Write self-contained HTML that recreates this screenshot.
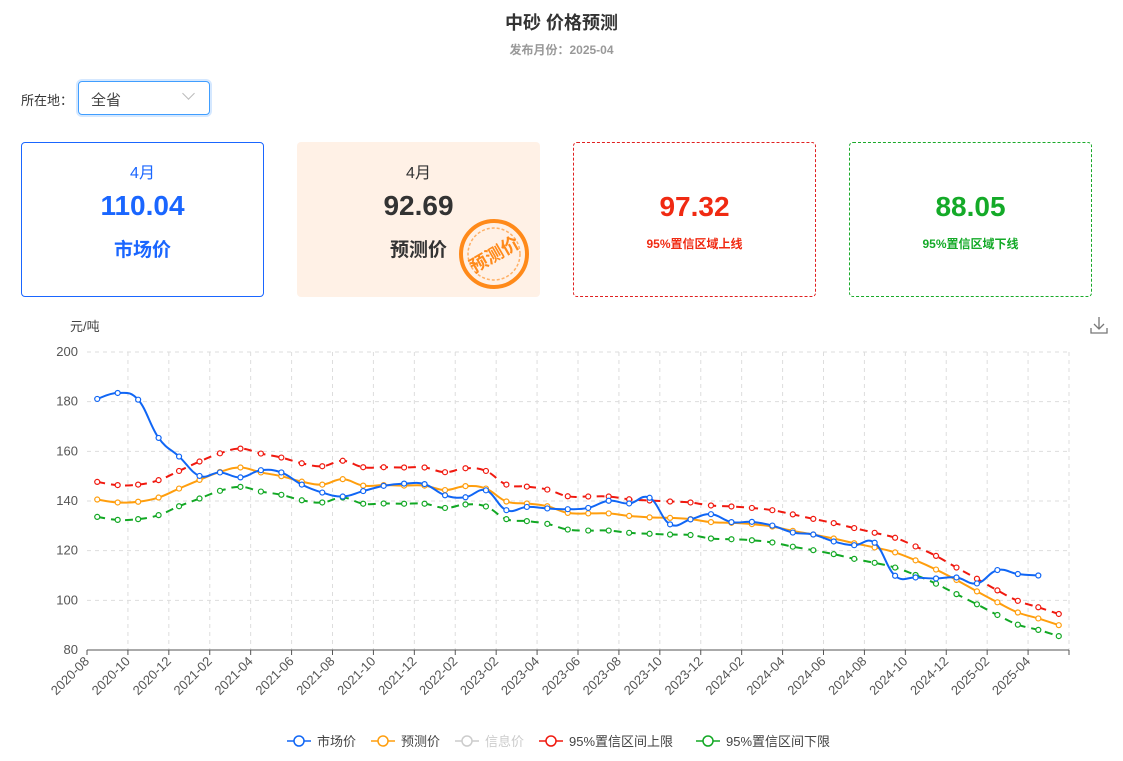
<!DOCTYPE html>
<html><head><meta charset="utf-8">
<style>
*{margin:0;padding:0;box-sizing:border-box}
body{width:1123px;height:761px;background:#fff;font-family:"Liberation Sans","Noto Sans CJK SC",sans-serif;position:relative;overflow:hidden;color:#333}
.abs{position:absolute}
.card{position:absolute;top:142px;width:243px;height:155px;border-radius:4px;text-align:center}
</style></head><body>
<div class="abs" style="left:0;width:1123px;top:9px;text-align:center;font-size:18px;font-weight:bold;color:#333">中砂 价格预测</div>
<div class="abs" style="left:0;width:1123px;top:41px;text-align:center;font-size:12px;font-weight:bold;color:#999">发布月份：2025-04</div>
<div class="abs" style="left:21px;top:90px;font-size:13px;color:#333">所在地：</div>
<div class="abs" style="left:78px;top:81px;width:132px;height:34px;border:1px solid #409eff;border-radius:4px;box-shadow:0 0 0 2px #d5e8ff"></div>
<div class="abs" style="left:91px;top:89px;font-size:15px;color:#444">全省</div>
<div class="abs" style="left:184px;top:89px;width:9px;height:9px;border-right:1px solid #bbb;border-bottom:1px solid #bbb;transform:rotate(45deg)"></div>

<div class="card" style="left:21px;border:1px solid #1a66ff">
 <div class="abs" style="left:0;right:0;top:16px;font-size:16px;color:#1a66ff">4月</div>
 <div class="abs" style="left:0;right:0;top:47px;font-size:28px;font-weight:bold;color:#1a66ff">110.04</div>
 <div class="abs" style="left:0;right:0;top:92px;font-size:19px;font-weight:bold;color:#1a66ff">市场价</div>
</div>
<div class="card" style="left:297px;background:#fff1e6">
 <div class="abs" style="left:0;right:0;top:17px;font-size:16px;color:#333">4月</div>
 <div class="abs" style="left:0;right:0;top:48px;font-size:28px;font-weight:bold;color:#333">92.69</div>
 <div class="abs" style="left:0;right:0;top:93px;font-size:19px;font-weight:bold;color:#333">预测价</div>
</div>
<svg class="abs" style="left:458px;top:218px" width="72" height="72" viewBox="0 0 72 72">
 <circle cx="36" cy="36" r="33" fill="none" stroke="#ff8a1a" stroke-width="4"/>
 <circle cx="36" cy="36" r="26" fill="none" stroke="#ffb066" stroke-width="1.5" stroke-dasharray="3 2"/>
 <text x="36" y="43" text-anchor="middle" font-size="18" font-weight="bold" fill="#ff8a1a" transform="rotate(-30 36 36)" font-family="Liberation Sans,Noto Sans CJK SC,sans-serif">预测价</text>
</svg>
<div class="card" style="left:573px;border:1px dashed #e02020">
 <div class="abs" style="left:0;right:0;top:48px;font-size:28px;font-weight:bold;color:#f02a12">97.32</div>
 <div class="abs" style="left:0;right:0;top:92px;font-size:12px;font-weight:bold;color:#f02a12">95%置信区域上线</div>
</div>
<div class="card" style="left:849px;border:1px dashed #1aaa2a">
 <div class="abs" style="left:0;right:0;top:48px;font-size:28px;font-weight:bold;color:#14aa28">88.05</div>
 <div class="abs" style="left:0;right:0;top:92px;font-size:12px;font-weight:bold;color:#14aa28">95%置信区域下线</div>
</div>

<svg id="ch" class="abs" style="left:0;top:0" width="1123" height="761"></svg>
<script>
var B=[181.1,183.5,180.8,165.4,157.9,150.1,151.5,149.5,152.4,151.5,146.6,143.4,141.8,144,146.1,147,146.8,142.3,141.5,144.3,136.3,137.6,137,136.7,137.2,140.1,139,141.3,130.6,132.6,134.7,131.5,131.6,130.1,127.3,126.5,123.7,122.2,123.2,109.9,109.2,108.8,109.2,106.8,112.2,110.6,110.0];
var O=[140.6,139.4,139.7,141.4,145,148.5,151.7,153.5,151.5,150,147.8,146.6,148.8,146.2,146.4,146.2,146.2,144.4,146,145,139.8,139,137.9,135.2,135,135,134,133.4,133.2,132.7,131.5,131.2,130.7,129.7,128,126.5,124.9,123,121.3,119.3,116.1,112.4,108.2,103.6,99.2,95.1,92.7,90];
var R=[147.7,146.4,146.6,148.4,152.1,155.9,159.2,161.1,159.1,157.5,155.2,154,156.2,153.6,153.6,153.5,153.5,151.6,153.2,152.1,146.6,145.8,144.6,141.9,141.8,141.8,140.7,140.2,139.8,139.4,138.2,137.8,137.2,136.3,134.6,132.8,131.1,129.1,127.2,125.2,121.7,117.9,113.2,108.7,104,99.8,97.2,94.5];
var G=[133.6,132.4,132.7,134.3,137.9,141,144.1,145.7,143.8,142.5,140.3,139.4,141.4,138.9,139,138.9,138.9,137.2,138.6,137.8,132.7,131.9,130.8,128.5,128.1,128.1,127.2,126.8,126.5,126.3,124.9,124.6,124.2,123.3,121.6,120.2,118.6,116.7,115.1,113.2,110.2,106.7,102.5,98.4,94.1,90.2,88.1,85.6];
var L=["2020-08","2020-10","2020-12","2021-02","2021-04","2021-06","2021-08","2021-10","2021-12","2022-02","2023-02","2023-04","2023-06","2023-08","2023-10","2023-12","2024-02","2024-04","2024-06","2024-08","2024-10","2024-12","2025-02","2025-04"];
var x0=87,x1=1069,n=48,w=(x1-x0)/n;
function X(i){return x0+w*(i+.5)}function Y(v){return 650-(v-80)*2.4833}
var s='';
for(var k=0;k<=6;k++){var y=650-k*49.67;s+='<line x1="'+x0+'" x2="'+x1+'" y1="'+y+'" y2="'+y+'" stroke="#ddd" stroke-dasharray="4 4"/>';
s+='<text x="78" y="'+(y+4)+'" text-anchor="end" font-size="13" fill="#555">'+(80+k*20)+'</text>';}
for(var i=0;i<=24;i++){var x=x0+2*w*i;if(i>0)s+='<line x1="'+x+'" x2="'+x+'" y1="352" y2="650" stroke="#ddd" stroke-dasharray="4 4"/>';
s+='<line x1="'+x+'" x2="'+x+'" y1="650" y2="655" stroke="#555"/>';
if(i<24)s+='<text transform="translate('+(x+3)+',662) rotate(-45)" text-anchor="end" font-size="13" fill="#555">'+L[i]+'</text>';}
s+='<line x1="'+x0+'" x2="'+x1+'" y1="650" y2="650" stroke="#555"/>';
s+='<text x="70" y="331" font-size="13" fill="#444">元/吨</text>';
function path(d){var p=d.map(function(v,i){return[X(i),Y(v)]});var r='M'+p[0][0]+','+p[0][1];
for(var i=0;i<p.length-1;i++){var a=p[i-1]||p[i],b=p[i],c=p[i+1],e=p[i+2]||c,t=.2;
r+=' C'+(b[0]+(c[0]-a[0])*t)+','+(b[1]+(c[1]-a[1])*t)+' '+(c[0]-(e[0]-b[0])*t)+','+(c[1]-(e[1]-b[1])*t)+' '+c[0]+','+c[1];}return r}
function ser(d,col,dash){s+='<path d="'+path(d)+'" fill="none" stroke="'+col+'" stroke-width="2"'+(dash?' stroke-dasharray="8 6"':'')+'/>';
d.forEach(function(v,i){s+='<circle cx="'+X(i)+'" cy="'+Y(v)+'" r="2.5" fill="#fff" stroke="'+col+'" stroke-width="1.2"/>'})}
ser(R,'#f0190f',1);ser(G,'#12a824',1);ser(O,'#ff9e0d',0);ser(B,'#1066f5',0);
var lg=[['市场价','#1066f5',287],['预测价','#ff9e0d',371],['信息价','#ccc',455],['95%置信区间上限','#f0190f',539],['95%置信区间下限','#12a824',696]];
lg.forEach(function(l){s+='<line x1="'+l[2]+'" x2="'+(l[2]+24)+'" y1="741" y2="741" stroke="'+l[1]+'" stroke-width="1.5"/><circle cx="'+(l[2]+12)+'" cy="741" r="5" fill="#fff" stroke="'+l[1]+'" stroke-width="1.5"/><text x="'+(l[2]+30)+'" y="746" font-size="13" fill="'+(l[0]=='信息价'?'#ccc':'#444')+'">'+l[0]+'</text>'});
s+='<g stroke="#777" stroke-width="1.3" fill="none"><path d="M1099 317v12M1094 324l5 5 5-5M1091 328v5h16v-5"/></g>';
document.getElementById('ch').innerHTML=s;
</script>
</body></html>
